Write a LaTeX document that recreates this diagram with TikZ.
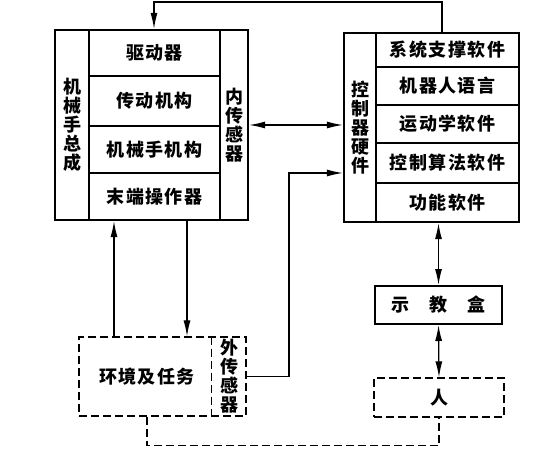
\documentclass[tikz,border=0pt]{standalone}
\usepackage{fontspec}
\newfontfamily\cjk{Noto Sans CJK SC}[LetterSpace=8]
\usetikzlibrary{arrows.meta}

\begin{document}
\begin{tikzpicture}[x=1pt,y=-1pt,font=\cjk\bfseries\fontsize{18}{19}\selectfont]
    \tikzstyle{cell}=[draw=black, line width=1.3pt, rectangle, inner sep=0pt]
    \tikzstyle{frame}=[draw=black, line width=2.2pt, rectangle, inner sep=0pt]
    \tikzstyle{dashbox}=[draw=black, line width=1.3pt, dash pattern=on 8pt off 4pt, rectangle, inner sep=0pt]
    \tikzstyle{conn}=[draw=black, line width=1.2pt]
    \tikzstyle{vert}=[align=center, font=\cjk\bfseries\fontsize{18}{19}\selectfont]
    \tikzstyle{tip}=[-{Latex[length=16pt,width=7pt]}]
    \tikzstyle{tips}=[{Latex[length=16pt,width=7pt]}-{Latex[length=16pt,width=7pt]}]

    \useasboundingbox (0,0) rectangle (543,454);

    % manipulator
	\foreach \n/\y/\h/\t in {drv/53/46pt/驱动器, trans/101/50pt/传动机构, mech/149.5/47pt/机械手机构, eff/196.5/47pt/末端操作器}{
		\node[cell, minimum width=131pt, minimum height=\h] (\n) at (154.5,\y) {\t};
	}
	\node[cell, vert, minimum width=34pt, minimum height=190pt] (armcol) at (72,125) {机\\械\\手\\总\\成};
	\node[cell, vert, minimum width=28pt, minimum height=190pt] (isens) at (234,125) {内\\传\\感\\器};
	\node[frame, minimum width=193pt, minimum height=190pt] (arm) at (151.5,125) {};

    % controller
	\foreach \n/\y/\h/\t in {sys/50/34pt/系统支撑软件, lang/86/38pt/机器人语言, kin/124/38pt/运动学软件, alg/163/40pt/控制算法软件, func/202.5/39pt/功能软件}{
		\node[cell, minimum width=143pt, minimum height=\h] (\n) at (447.5,\y) {\t};
	}
	\node[cell, vert, minimum width=32pt, minimum height=189pt] (hw) at (360,127.5) {控\\制\\器\\硬\\件};
	\node[frame, minimum width=175pt, minimum height=189pt] (ctrl) at (431.5,127.5) {};

    % environment
	\node[dashbox, minimum width=167pt, minimum height=79pt] (env) at (162.5,376.5) {};
	\node[] (task) at (147,376.5) {环境及任务};
	\node[vert, minimum width=34pt, minimum height=79pt, inner sep=0pt] (esens) at (229,376.5) {外\\传\\感\\器};
	\draw[dashbox] (esens.north west) -- (esens.south west);

	\node[frame, line width=2pt, minimum width=127pt, minimum height=38pt] (teach) at (438.5,305) {示\hspace{20pt}教\hspace{20pt}盒};
	\node[dashbox, minimum width=130pt, minimum height=39pt] (person) at (439,397.5) {人};

	\coordinate (tr) at (442,2);
	\coordinate (tl) at (154,2);
	\coordinate (up) at (114,0);
	\coordinate (dn) at (187,0);
	\coordinate (ex) at (289,173);

	\draw[conn,tip] (tr |- ctrl.north) -- (tr) -- (tl) -- (tl |- arm.north);
	\draw[conn,tips] (arm.east) -- (arm.east -| ctrl.west);
	\draw[conn,tip] (esens.east) -| (ex) -- (ex -| ctrl.west);
	\draw[conn,tip] (up |- env.north) -- (up |- arm.south);
	\draw[conn,tip] (dn |- arm.south) -- (dn |- env.north);
	\draw[conn,tips] (ctrl.south -| teach.north) -- (teach.north);
	\draw[conn,tips] (teach.south) -- (person.north);
	\draw[dashbox] (env.south -| task) -- ++(0,29) -| (person.south);
\end{tikzpicture}
\end{document}
